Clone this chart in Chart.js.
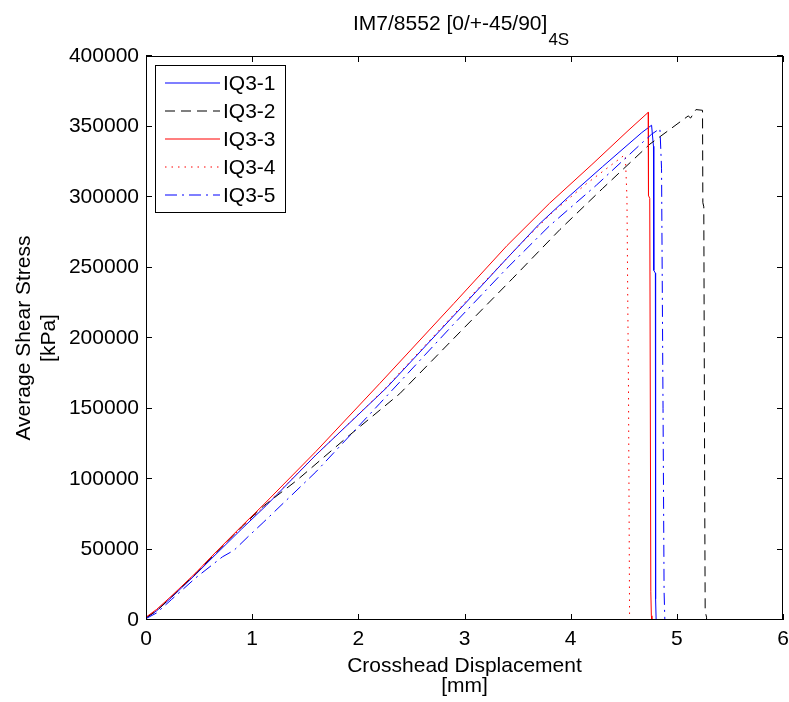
<!DOCTYPE html>
<html>
<head>
<meta charset="utf-8">
<script src="https://cdn.jsdelivr.net/npm/chart.js@4/dist/chart.umd.min.js"></script>
<style>
  html, body { margin: 0; padding: 0; background: #fff; }
  canvas { display: block; }
</style>
</head>
<body>
<canvas id="myCanvas" width="789" height="702"></canvas>
<script>
// values: crosshead displacement [mm] vs average shear stress [kPa]
const seriesNames = ['IQ3-1', 'IQ3-2', 'IQ3-3', 'IQ3-4', 'IQ3-5'];

const iq31X = [0, 0.1, 0.24, 0.47, 0.65, 0.9, 1.13, 1.6, 2.27, 3.0, 3.4, 3.7, 4.0, 4.3, 4.67, 4.762, 4.78, 4.783, 4.798, 4.80, 4.805];
const iq31Y = [1500, 6500, 16000, 32500, 46000, 64500, 81000, 117000, 165000, 224000, 256500, 280500, 301500, 321500, 345700, 350900, 336000, 248000, 246000, 15000, 0];

const iq32X = [0, 0.1, 0.24, 0.47, 0.63, 0.9, 1.11, 1.42, 1.9, 2.39, 3.0, 3.45, 3.9, 4.3, 4.746, 5.107, 5.13, 5.18, 5.242, 5.245, 5.254, 5.262, 5.267, 5.28, 5.28];
const iq32Y = [1500, 6500, 16500, 33000, 45500, 66000, 81000, 99000, 130000, 160500, 207500, 242000, 277000, 306000, 337500, 357500, 356000, 362000, 361500, 296000, 293000, 100000, 6000, 2000, 0];

const iq33X = [0, 0.1, 0.24, 0.47, 0.63, 0.9, 1.11, 1.6, 2.2, 2.9, 3.4, 3.8, 4.2, 4.54, 4.73, 4.733, 4.745, 4.755, 4.76, 4.765];
const iq33Y = [2000, 7500, 17000, 33500, 46000, 66500, 82000, 119500, 167600, 224500, 265500, 295500, 323000, 347000, 360000, 301000, 299000, 20000, 3000, 0];

const iq34X = [0, 0.1, 0.24, 0.47, 0.63, 0.9, 1.12, 1.6, 2.235, 3.05, 3.5, 3.82, 4.15, 4.51, 4.515, 4.53, 4.545, 4.555];
const iq34Y = [1800, 7000, 16800, 33200, 45800, 65500, 81000, 117000, 162800, 228900, 264500, 288500, 309500, 329900, 329000, 300000, 160000, 0];

const iq35X = [0, 0.1, 0.24, 0.47, 0.72, 0.83, 0.96, 1.11, 1.6, 2.2, 2.9, 3.4, 3.8, 4.244, 4.652, 4.762, 4.84, 4.843, 4.856, 4.87, 4.88, 4.887];
const iq35Y = [1000, 5000, 14500, 30000, 44800, 49500, 59000, 69600, 105000, 153400, 210000, 249500, 279500, 308500, 337000, 344500, 348500, 345000, 320000, 150000, 20000, 0];

const xTicks = [0, 1, 2, 3, 4, 5, 6];
const yTicks = [0, 50000, 100000, 150000, 200000, 250000, 300000, 350000, 400000];

const FONT = '"Liberation Sans", Arial, sans-serif';

function pts(xs, ys) {
    return xs.map((x, i) => ({ x: x, y: ys[i] }));
}

const lineStyles = [
    { color: 'rgb(0,0,255)', dash: [] },
    { color: 'rgb(0,0,0)', dash: [10, 6] },
    { color: 'rgb(255,0,0)', dash: [] },
    { color: 'rgb(255,0,0)', dash: [1.5, 5] },
    { color: 'rgb(0,0,255)', dash: [12, 5, 2, 5] },
];
const allX = [iq31X, iq32X, iq33X, iq34X, iq35X];
const allY = [iq31Y, iq32Y, iq33Y, iq34Y, iq35Y];

const datasets = seriesNames.map((name, i) => ({
    label: name,
    data: pts(allX[i], allY[i]),
    showLine: true,
    borderColor: lineStyles[i].color,
    backgroundColor: lineStyles[i].color,
    borderDash: lineStyles[i].dash,
    borderWidth: 1,
    pointRadius: 0,
    fill: false,
    tension: 0,
    order: seriesNames.length - i,
}));

// box, inward ticks, title, axis titles and legend
const decor = {
    id: 'decor',
    beforeDraw(chart) {
        const c = chart.ctx;
        c.save();
        c.fillStyle = '#fff';
        c.fillRect(0, 0, chart.width, chart.height);
        c.restore();
    },
    afterDraw(chart) {
        const c = chart.ctx;
        const a = chart.chartArea;
        const xs = chart.scales.x, ys = chart.scales.y;
        c.save();
        c.strokeStyle = '#000';
        c.lineWidth = 1;
        c.setLineDash([]);
        c.strokeRect(a.left + 0.5, a.top + 0.5, a.right - a.left - 1, a.bottom - a.top - 1);
        c.beginPath();
        xTicks.forEach(v => {
            const p = Math.round(xs.getPixelForValue(v)) + 0.5;
            c.moveTo(p, a.bottom); c.lineTo(p, a.bottom - 6);
            c.moveTo(p, a.top); c.lineTo(p, a.top + 6);
        });
        yTicks.forEach(v => {
            const p = Math.round(ys.getPixelForValue(v)) - 0.5;
            c.moveTo(a.left, p); c.lineTo(a.left + 6, p);
            c.moveTo(a.right, p); c.lineTo(a.right - 6, p);
        });
        c.stroke();

        // title with subscript
        c.fillStyle = '#000';
        c.textBaseline = 'alphabetic';
        c.textAlign = 'left';
        c.font = '21px ' + FONT;
        const main = 'IM7/8552 [0/+-45/90]';
        c.fillText(main, 353, 30);
        const w = c.measureText(main).width;
        c.font = '17px ' + FONT;
        c.fillText('4S', 353 + w + 1, 45);

        // axis titles
        c.font = '21px ' + FONT;
        c.textAlign = 'center';
        const cx = (a.left + a.right) / 2;
        c.fillText('Crosshead Displacement', cx, 672);
        c.fillText('[mm]', cx, 692);
        c.save();
        c.translate(0, (a.top + a.bottom) / 2);
        c.rotate(-Math.PI / 2);
        c.fillText('Average Shear Stress', 0, 30);
        c.fillText('[kPa]', 0, 55);
        c.restore();

        // legend
        const lx = 155, ly = 65, lw = 130, lh = 147;
        c.fillStyle = '#fff';
        c.fillRect(lx, ly, lw, lh);
        c.strokeStyle = '#000';
        c.strokeRect(lx + 0.5, ly + 0.5, lw, lh);
        c.textAlign = 'left';
        c.textBaseline = 'middle';
        c.font = '21px ' + FONT;
        for (let i = 0; i < seriesNames.length; i++) {
            const ry = Math.round(ly + 18 + i * 28);
            c.save();
            c.lineWidth = 1.2;
            c.strokeStyle = lineStyles[i].color;
            c.setLineDash(lineStyles[i].dash);
            c.beginPath();
            c.moveTo(165, ry);
            c.lineTo(220, ry);
            c.stroke();
            c.restore();
            c.fillStyle = '#000';
            c.fillText(seriesNames[i], 223, ry + 1);
        }
        c.restore();
    }
};

const ctx = document.getElementById('myCanvas').getContext('2d');

const myChart = new Chart(ctx, {
    type: 'scatter',
    data: { datasets: datasets },
    options: {
        responsive: false,
        animation: false,
        devicePixelRatio: 1,
        layout: { padding: { top: 56, right: 6, left: 0, bottom: 0 } },
        plugins: {
            legend: { display: false },
            tooltip: { enabled: false },
        },
        scales: {
            x: {
                type: 'linear',
                min: 0,
                max: 6,
                afterFit: (s) => { s.height = 82; s.paddingLeft = 0; s.paddingRight = 0; },
                afterBuildTicks: (s) => { s.ticks = xTicks.map(v => ({ value: v })); },
                ticks: { color: '#000', font: { size: 21, family: FONT }, padding: 7, maxRotation: 0,
                         callback: (v) => String(v) },
                grid: { display: false, drawTicks: false, tickLength: 0 },
                border: { display: false },
            },
            y: {
                type: 'linear',
                min: 0,
                max: 400000,
                afterFit: (s) => { s.width = 146; s.paddingTop = 0; s.paddingBottom = 0; },
                afterBuildTicks: (s) => { s.ticks = yTicks.map(v => ({ value: v })); },
                ticks: { color: '#000', font: { size: 21, family: FONT }, padding: 7,
                         callback: (v) => String(v) },
                grid: { display: false, drawTicks: false, tickLength: 0 },
                border: { display: false },
            }
        }
    },
    plugins: [decor]
});
</script>
</body>
</html>
